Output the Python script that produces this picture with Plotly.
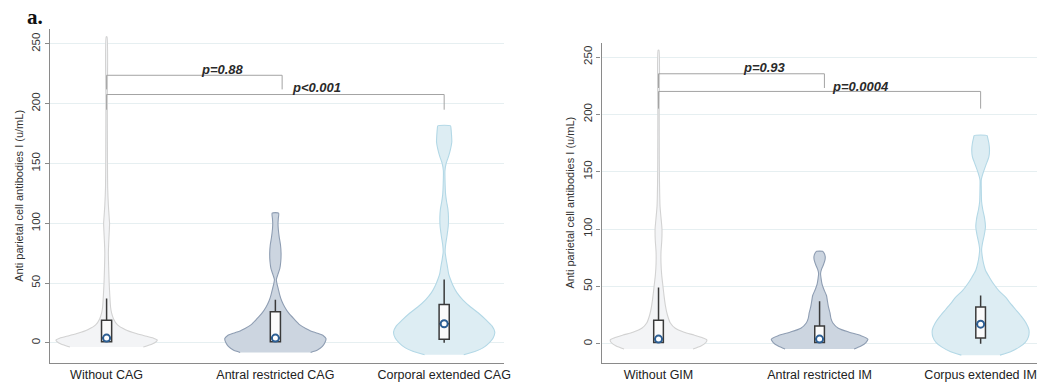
import plotly.graph_objects as go

# ---------------- data ----------------
cats_left = ["Without CAG", "Antral restricted CAG", "Corporal extended CAG"]
cats_right = ["Without GIM", "Antral restricted IM", "Corpus extended IM"]

# density profiles (value level -> relative density)
without_cag_y = [-3.5, -1, 1, 2.5, 4, 6, 8, 11, 15, 20, 25, 30, 40, 50, 60, 75, 85, 95, 100, 105, 115, 130, 150, 200, 256]
without_cag_d = [37, 46, 50, 51, 47, 38, 29, 19, 11, 7, 5, 4, 3.2, 2.6, 2.2, 1.8, 2.2, 2.8, 3, 2.6, 1.8, 1.1, 0.9, 0.7, 0.4]

antral_cag_y = [-8, -6, -3, 0, 3.5, 6, 8, 10, 12, 15, 20, 25, 30, 35, 40, 45, 50, 53, 57, 62, 68, 75, 82, 88, 95, 100, 104, 108.5]
antral_cag_d = [36, 43, 48, 50.5, 51.7, 49, 43, 36, 31, 25, 19, 13.5, 9.5, 6.5, 4.5, 3, 1.5, 1, 2.5, 4.5, 5.5, 5.8, 5.2, 4, 3, 2.7, 3, 3.3]

corporal_cag_y = [-10, -7, -4, 0, 4, 9, 14, 19, 25, 30, 36, 42, 48, 53, 58, 64, 70, 76, 82, 90, 98, 105, 112, 118, 124, 132, 144, 150, 156, 162, 168, 174, 179, 181.5]
corporal_cag_d = [20, 32, 40, 46, 50, 51.7, 49, 43, 35, 27, 19, 13, 9, 6.5, 4.5, 3.3, 2, 1, 1.5, 3, 4.2, 4.4, 3.8, 2.5, 1.5, 1, 0.8, 2, 4.5, 6.5, 7.8, 7.5, 7, 6.5]

without_gim_y = [-4.6, -2, 1, 3.2, 5, 7.5, 10, 13.4, 18, 25, 33, 41, 50, 60, 70, 80, 90, 100, 110, 120, 140, 160, 200, 256]
without_gim_d = [35, 43, 48, 49, 45, 36, 26, 17, 12, 9, 7, 5.7, 4.5, 3.2, 2.5, 2.5, 3.3, 3.5, 2.5, 1.5, 1, 0.8, 0.7, 0.4]

antral_im_y = [-4.6, -2, 1, 4, 7, 10, 13.4, 18, 22, 27, 32, 37, 42, 47, 52, 57, 61, 65, 69, 73, 76, 79, 80.5]
antral_im_d = [35, 42, 47, 49, 42, 30, 19, 13.5, 11.5, 10.5, 9, 8, 7, 4.5, 2.5, 1.5, 1, 2, 4, 5.5, 5.7, 4.5, 3]

corpus_im_y = [-10, -7, -3, 1, 6, 12, 18, 24, 30, 36, 40, 46, 52, 58, 64, 70, 76, 82, 88, 95, 102, 110, 117, 124, 134, 143, 150, 157, 163, 169, 175, 180, 181.5]
corpus_im_d = [20, 31, 40, 46, 49.5, 50, 47, 42, 36, 30, 26.5, 19, 13.5, 9, 5, 3, 1.7, 1, 2, 3.8, 5, 4, 2.2, 1, 0.7, 0.7, 3, 6, 8.5, 9.2, 8.5, 7.2, 6.7]

# box statistics (lower whisker, q1, median, q3, upper whisker)
left_lower = [0.5, 0.5, 0]
left_q1 = [1, 1, 3]
left_median = [4, 4, 16]
left_q3 = [19, 26, 32]
left_upper = [37, 36, 53]

right_lower = [0.5, 0.5, 0]
right_q1 = [1, 1, 5]
right_median = [4, 4, 17]
right_q3 = [20.5, 15.5, 32]
right_upper = [49, 37, 42]

p_left = ["p=0.88", "p<0.001"]
p_right = ["p=0.93", "p=0.0004"]
y_title = "Anti parietal cell antibodies I (u/mL)"
y_ticks = [0, 50, 100, 150, 200, 250]

# ---------------- styles ----------------
FILLS = ["rgba(243,244,246,1)", "rgba(204,213,224,1)", "rgba(221,237,243,1)"]
LINES = ["#d2d2d2", "#8e9db2", "#b3d8e6"]
HALF_W = 0.30
BOX_W = 0.06
AXIS_C = "#8a8a8a"
GRID_C = "#e6eff1"
FONT = "Liberation Sans, Arial, sans-serif"
Y_RANGE = [-16.6, 262.5]
X_RANGE_L = [-0.337, 2.355]
X_RANGE_R = [-0.354, 2.35]

fig = go.Figure()


def add_violin(pos, ys, ds, i, xa, ya):
    m = max(ds)
    xs = [pos + HALF_W * d / m for d in ds] + [pos - HALF_W * d / m for d in reversed(ds)]
    yy = list(ys) + list(reversed(ys))
    fig.add_trace(go.Scatter(x=xs, y=yy, mode="lines", fill="toself",
                             fillcolor=FILLS[i],
                             line=dict(color=LINES[i], width=1.1, shape="spline", smoothing=0.6),
                             xaxis=xa, yaxis=ya, hoverinfo="skip", showlegend=False))


def add_boxes(lo, q1, med, q3, up, xa, ya):
    fig.add_trace(go.Box(x=[0, 1, 2], lowerfence=lo, q1=q1, median=med, q3=q3,
                         upperfence=up, width=BOX_W, whiskerwidth=0, orientation="v",
                         boxpoints=False,
                         fillcolor="#fbfbfb", line=dict(color="#3a3a3a", width=1.5),
                         xaxis=xa, yaxis=ya, showlegend=False, hoverinfo="skip"))
    fig.add_trace(go.Scatter(x=[0, 1, 2], y=med, mode="markers",
                             marker=dict(symbol="circle", size=7, color="#ffffff",
                                         line=dict(color="#2d5f94", width=2)),
                             xaxis=xa, yaxis=ya, showlegend=False, hoverinfo="skip"))


left_profiles = [(without_cag_y, without_cag_d), (antral_cag_y, antral_cag_d), (corporal_cag_y, corporal_cag_d)]
right_profiles = [(without_gim_y, without_gim_d), (antral_im_y, antral_im_d), (corpus_im_y, corpus_im_d)]

for i, (ys, ds) in enumerate(left_profiles):
    add_violin(i, ys, ds, i, "x", "y")
for i, (ys, ds) in enumerate(right_profiles):
    add_violin(i, ys, ds, i, "x2", "y2")

# boxes go on overlaid axes so that they are drawn above the violins
add_boxes(left_lower, left_q1, left_median, left_q3, left_upper, "x3", "y3")
add_boxes(right_lower, right_q1, right_median, right_q3, right_upper, "x4", "y4")

# significance brackets
BR_C = "#a3a3a3"
brackets_left = [([0, 0, 1.04, 1.04], [212, 223.8, 223.8, 212]),
                 ([0, 0, 2, 2], [195, 207.7, 207.7, 195])]
brackets_right = [([0, 0, 1.03, 1.03], [223, 235.4, 235.4, 223]),
                  ([0, 0, 2, 2], [205, 220, 220, 205])]
for bx, by in brackets_left:
    fig.add_trace(go.Scatter(x=bx, y=by, mode="lines", line=dict(color=BR_C, width=1),
                             xaxis="x", yaxis="y", showlegend=False, hoverinfo="skip"))
for bx, by in brackets_right:
    fig.add_trace(go.Scatter(x=bx, y=by, mode="lines", line=dict(color=BR_C, width=1),
                             xaxis="x2", yaxis="y2", showlegend=False, hoverinfo="skip"))

ann = []
for txt, (ax, ay), xr, yr in [(p_left[0], (0.686, 229), "x", "y"),
                               (p_left[1], (1.245, 213.3), "x", "y"),
                               (p_right[0], (0.659, 240.6), "x2", "y2"),
                               (p_right[1], (1.251, 224.2), "x2", "y2")]:
    ann.append(dict(x=ax, y=ay, xref=xr, yref=yr, text="<b><i>" + txt + "</i></b>",
                    showarrow=False, font=dict(family=FONT, size=13, color="#2a2a2a")))
ann.append(dict(x=25 / 1043, y=1 - 17 / 386, xref="paper", yref="paper", text="<b>a.</b>",
                xanchor="left", yanchor="middle", showarrow=False,
                font=dict(family="Liberation Serif, Times New Roman, serif", size=21, color="#111")))


def xaxis_cfg(domain, rng, labels, anchor):
    return dict(domain=domain, range=rng, tickvals=[0, 1, 2], ticktext=labels,
                showline=True, linecolor=AXIS_C, linewidth=1.3, ticks="",
                showgrid=False, zeroline=False, anchor=anchor,
                tickfont=dict(family=FONT, size=12.5, color="#222"))


def yaxis_cfg(domain, anchor):
    return dict(domain=domain, range=Y_RANGE, tickvals=y_ticks, tickangle=-90,
                ticks="outside", ticklen=4, tickcolor=AXIS_C, showline=True,
                linecolor=AXIS_C, linewidth=1.3, gridcolor=GRID_C, gridwidth=1.2,
                zeroline=False, anchor=anchor,
                tickfont=dict(family=FONT, size=11.5, color="#333"),
                title=dict(text=y_title, font=dict(family=FONT, size=11, color="#333"), standoff=4))


def overlay_x(base, rng, anchor):
    return dict(overlaying=base, range=rng, visible=False, anchor=anchor)


def overlay_y(base, anchor):
    return dict(overlaying=base, range=Y_RANGE, visible=False, anchor=anchor)


fig.update_layout(
    width=1043, height=386,
    margin=dict(l=0, r=0, t=0, b=0),
    paper_bgcolor="white", plot_bgcolor="white",
    showlegend=False,
    boxmode="overlay",
    xaxis=xaxis_cfg([50 / 1043, 507 / 1043], X_RANGE_L, cats_left, "y"),
    yaxis=yaxis_cfg([1 - 362.7 / 386, 1 - 29 / 386], "x"),
    xaxis2=xaxis_cfg([605 / 1043, 1.0], X_RANGE_R, cats_right, "y2"),
    yaxis2=yaxis_cfg([1 - 362.7 / 386, 1 - 42.7 / 386], "x2"),
    xaxis3=overlay_x("x", X_RANGE_L, "y3"),
    yaxis3=overlay_y("y", "x3"),
    xaxis4=overlay_x("x2", X_RANGE_R, "y4"),
    yaxis4=overlay_y("y2", "x4"),
    annotations=ann,
)

fig.write_html("out.html")
